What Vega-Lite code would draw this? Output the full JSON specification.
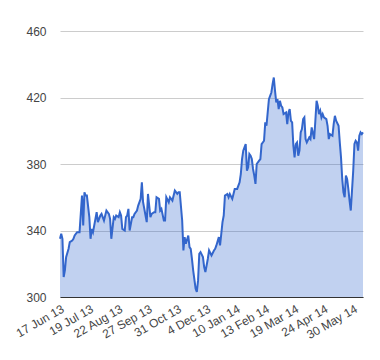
{
  "$schema": "https://vega.github.io/schema/vega-lite/v6.json",
  "width": 303,
  "height": 266,
  "autosize": {"type": "none"},
  "padding": {"left": 60, "top": 31, "right": 17, "bottom": 63},
  "config": {
    "font": "Liberation Sans",
    "view": {"stroke": null},
    "axis": {"labelFont": "Liberation Sans", "labelColor": "#444", "labelFontSize": 12}
  },
  "data": {
    "values": [
      {"i": 0, "v": 335}, {"i": 1, "v": 338}, {"i": 2, "v": 335}, {"i": 3, "v": 312}, {"i": 4, "v": 316},
      {"i": 5, "v": 324}, {"i": 7, "v": 329}, {"i": 8, "v": 333}, {"i": 10, "v": 334}, {"i": 11, "v": 335},
      {"i": 12, "v": 337}, {"i": 14, "v": 339}, {"i": 16, "v": 339}, {"i": 18, "v": 361}, {"i": 19, "v": 343},
      {"i": 20, "v": 363}, {"i": 21, "v": 361}, {"i": 22, "v": 361}, {"i": 24, "v": 348}, {"i": 25, "v": 335},
      {"i": 26, "v": 341}, {"i": 27, "v": 339}, {"i": 29, "v": 347}, {"i": 30, "v": 351}, {"i": 31, "v": 345},
      {"i": 33, "v": 349}, {"i": 34, "v": 350}, {"i": 36, "v": 346}, {"i": 37, "v": 349}, {"i": 38, "v": 352},
      {"i": 40, "v": 350}, {"i": 41, "v": 347}, {"i": 42, "v": 335}, {"i": 44, "v": 348}, {"i": 45, "v": 347},
      {"i": 46, "v": 349}, {"i": 48, "v": 348}, {"i": 49, "v": 351}, {"i": 50, "v": 349}, {"i": 51, "v": 341},
      {"i": 53, "v": 340}, {"i": 54, "v": 348}, {"i": 55, "v": 349}, {"i": 56, "v": 353}, {"i": 57, "v": 340},
      {"i": 59, "v": 348}, {"i": 60, "v": 348}, {"i": 61, "v": 350}, {"i": 63, "v": 352}, {"i": 64, "v": 355},
      {"i": 66, "v": 359}, {"i": 67, "v": 369}, {"i": 68, "v": 357}, {"i": 70, "v": 349}, {"i": 71, "v": 345},
      {"i": 72, "v": 362}, {"i": 74, "v": 348}, {"i": 75, "v": 350}, {"i": 77, "v": 351}, {"i": 78, "v": 351},
      {"i": 79, "v": 360}, {"i": 81, "v": 359}, {"i": 82, "v": 352}, {"i": 83, "v": 353}, {"i": 85, "v": 346},
      {"i": 86, "v": 346}, {"i": 87, "v": 360}, {"i": 89, "v": 357}, {"i": 90, "v": 360}, {"i": 92, "v": 358},
      {"i": 93, "v": 361}, {"i": 94, "v": 364}, {"i": 96, "v": 362}, {"i": 97, "v": 363}, {"i": 98, "v": 363},
      {"i": 100, "v": 346}, {"i": 101, "v": 328}, {"i": 102, "v": 336}, {"i": 103, "v": 332}, {"i": 105, "v": 337},
      {"i": 106, "v": 330}, {"i": 107, "v": 329}, {"i": 108, "v": 323}, {"i": 109, "v": 316}, {"i": 111, "v": 305},
      {"i": 112, "v": 303}, {"i": 113, "v": 310}, {"i": 114, "v": 326}, {"i": 115, "v": 327}, {"i": 117, "v": 324},
      {"i": 118, "v": 318}, {"i": 119, "v": 315}, {"i": 121, "v": 323}, {"i": 122, "v": 328}, {"i": 124, "v": 325},
      {"i": 126, "v": 328}, {"i": 127, "v": 329}, {"i": 128, "v": 331}, {"i": 130, "v": 336}, {"i": 131, "v": 331},
      {"i": 132, "v": 338}, {"i": 133, "v": 345}, {"i": 134, "v": 349}, {"i": 135, "v": 361}, {"i": 137, "v": 362},
      {"i": 138, "v": 360}, {"i": 139, "v": 362}, {"i": 141, "v": 359}, {"i": 142, "v": 362}, {"i": 143, "v": 365},
      {"i": 145, "v": 365}, {"i": 146, "v": 367}, {"i": 147, "v": 369}, {"i": 148, "v": 374}, {"i": 149, "v": 383},
      {"i": 150, "v": 388}, {"i": 151, "v": 390}, {"i": 152, "v": 392}, {"i": 153, "v": 376}, {"i": 154, "v": 378},
      {"i": 155, "v": 386}, {"i": 156, "v": 385}, {"i": 157, "v": 383}, {"i": 158, "v": 377}, {"i": 159, "v": 373},
      {"i": 160, "v": 368}, {"i": 161, "v": 380}, {"i": 163, "v": 382}, {"i": 164, "v": 383}, {"i": 165, "v": 392},
      {"i": 167, "v": 394}, {"i": 168, "v": 405}, {"i": 169, "v": 403}, {"i": 170, "v": 411}, {"i": 171, "v": 419},
      {"i": 172, "v": 421}, {"i": 173, "v": 423}, {"i": 174, "v": 428}, {"i": 175, "v": 432}, {"i": 176, "v": 424},
      {"i": 177, "v": 417}, {"i": 178, "v": 419}, {"i": 179, "v": 413}, {"i": 180, "v": 418}, {"i": 181, "v": 415},
      {"i": 182, "v": 414}, {"i": 183, "v": 410}, {"i": 185, "v": 411}, {"i": 186, "v": 404}, {"i": 187, "v": 411},
      {"i": 188, "v": 413}, {"i": 189, "v": 406}, {"i": 190, "v": 405}, {"i": 191, "v": 391}, {"i": 192, "v": 384},
      {"i": 193, "v": 392}, {"i": 194, "v": 393}, {"i": 195, "v": 385}, {"i": 196, "v": 388}, {"i": 197, "v": 399},
      {"i": 198, "v": 401}, {"i": 199, "v": 407}, {"i": 200, "v": 408}, {"i": 201, "v": 395}, {"i": 202, "v": 393},
      {"i": 204, "v": 396}, {"i": 205, "v": 395}, {"i": 206, "v": 402}, {"i": 208, "v": 395}, {"i": 209, "v": 406},
      {"i": 210, "v": 418}, {"i": 211, "v": 415}, {"i": 212, "v": 410}, {"i": 213, "v": 412}, {"i": 214, "v": 408},
      {"i": 215, "v": 410}, {"i": 216, "v": 408}, {"i": 218, "v": 407}, {"i": 219, "v": 403}, {"i": 220, "v": 395},
      {"i": 221, "v": 398}, {"i": 223, "v": 397}, {"i": 224, "v": 404}, {"i": 225, "v": 409}, {"i": 226, "v": 406},
      {"i": 228, "v": 403}, {"i": 229, "v": 393}, {"i": 230, "v": 384}, {"i": 231, "v": 371}, {"i": 232, "v": 363},
      {"i": 233, "v": 360}, {"i": 234, "v": 373}, {"i": 235, "v": 371}, {"i": 236, "v": 365}, {"i": 237, "v": 358},
      {"i": 238, "v": 352}, {"i": 239, "v": 364}, {"i": 240, "v": 376}, {"i": 241, "v": 392}, {"i": 242, "v": 394},
      {"i": 243, "v": 393}, {"i": 244, "v": 388}, {"i": 245, "v": 397}, {"i": 246, "v": 399}, {"i": 247, "v": 398},
      {"i": 248, "v": 399}
    ]
  },
  "encoding": {
    "x": {
      "field": "i",
      "type": "quantitative",
      "scale": {"domain": [0, 248], "nice": false, "zero": false},
      "axis": {
        "title": null,
        "values": [0, 24, 48, 72, 96, 120, 144, 168, 192, 216, 240],
        "labelExpr": "['17 Jun 13','19 Jul 13','22 Aug 13','27 Sep 13','31 Oct 13','4 Dec 13','10 Jan 14','13 Feb 14','19 Mar 14','24 Apr 14','30 May 14'][round(datum.value / 24)]",
        "labelAngle": -30,
        "labelAlign": "right",
        "labelBaseline": "top",
        "labelPadding": 6,
        "labelFontSize": 12,
        "labelOverlap": false,
        "labelBound": false,
        "labelFlush": false,
        "ticks": false,
        "grid": false,
        "domain": true,
        "domainColor": "#333333",
        "domainWidth": 1,
        "zindex": 1
      }
    },
    "y": {
      "field": "v",
      "type": "quantitative",
      "scale": {"domain": [300, 460], "nice": false, "zero": false},
      "axis": {
        "title": null,
        "values": [300, 340, 380, 420, 460],
        "labelPadding": 14,
        "ticks": false,
        "domain": false,
        "grid": true,
        "gridColor": "#cccccc",
        "gridWidth": 1
      }
    }
  },
  "layer": [
    {
      "mark": {"type": "area", "color": "#3366cc", "fillOpacity": 0.3},
      "encoding": {"y2": {"datum": 300}}
    },
    {
      "mark": {"type": "line", "color": "#3366cc", "strokeWidth": 2}
    }
  ]
}
